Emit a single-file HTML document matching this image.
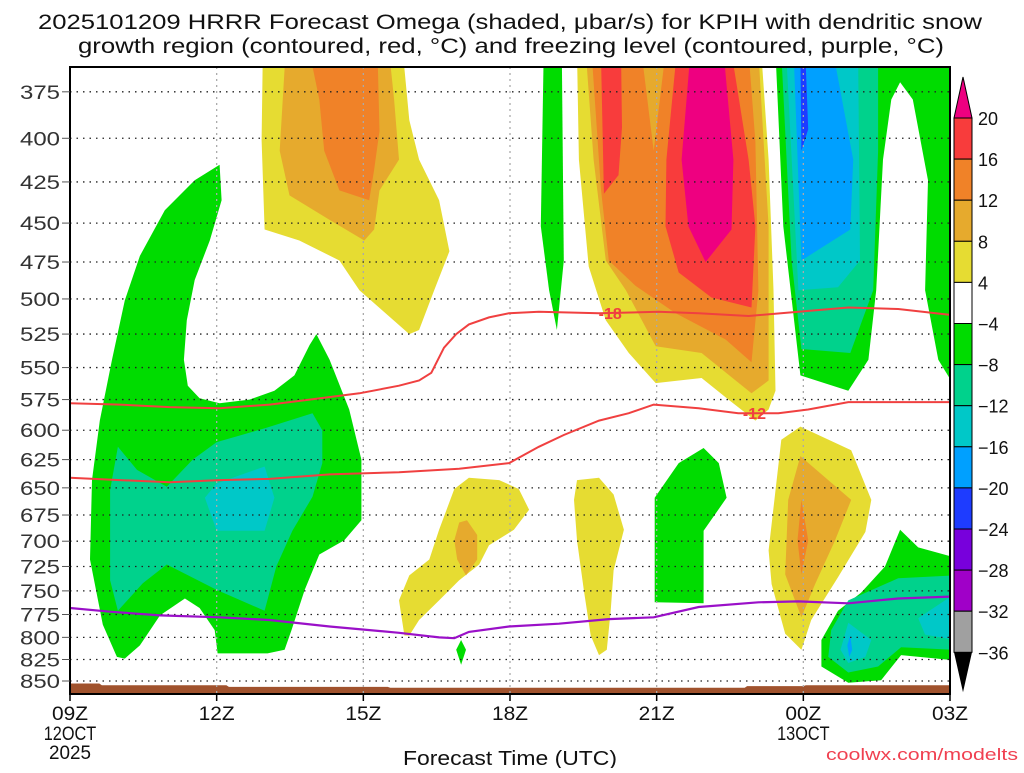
<!DOCTYPE html>
<html><head><meta charset="utf-8"><style>
body{margin:0;background:#fff;}
svg text{font-family:"Liberation Sans",sans-serif;}
</style></head><body>
<svg id="chart" width="1024" height="768" viewBox="0 0 1024 768" xmlns="http://www.w3.org/2000/svg">
<rect width="1024" height="768" fill="#fff"/>
<text x="510" y="29" font-size="21" text-anchor="middle" fill="#111" textLength="944" lengthAdjust="spacingAndGlyphs">2025101209 HRRR Forecast Omega (shaded, μbar/s) for KPIH with dendritic snow</text>
<text x="511" y="53" font-size="21" text-anchor="middle" fill="#111" textLength="866" lengthAdjust="spacingAndGlyphs">growth region (contoured, red, °C) and freezing level (contoured, purple, °C)</text>
<defs><clipPath id="plotclip"><rect x="70" y="67" width="880" height="627"/></clipPath></defs>
<g id="fills" clip-path="url(#plotclip)"></g>
<g id="grid"></g>
<g id="lines" clip-path="url(#plotclip)"></g>
<g id="axes"></g>
<g id="cbar"></g>
<text x="510" y="765" font-size="20" text-anchor="middle" fill="#111" textLength="214" lengthAdjust="spacingAndGlyphs">Forecast Time (UTC)</text>
<text x="1018" y="760" font-size="17" text-anchor="end" fill="#f04050" textLength="192" lengthAdjust="spacingAndGlyphs">coolwx.com/modelts</text>
</svg>
<script>
const NS="http://www.w3.org/2000/svg";
const xTickHours=[0,3,6,9,12,15,18];
const xTickLabels=["09Z","12Z","15Z","18Z","21Z","00Z","03Z"];
const xDateLabels=[["12OCT","2025"],null,null,null,null,["13OCT"],null];
const yTicks=[375,400,425,450,475,500,525,550,575,600,625,650,675,700,725,750,775,800,825,850];
const cbLevels=["20","16","12","8","4","−4","−8","−12","−16","−20","−24","−28","−32","−36"];
const cbColors=["#f83c3c","#f08228","#e6aa2d","#e6dc32","#ffffff","#00dc00","#00d28c","#00c8c8","#00a0ff","#1e3cff","#7800dc","#a000c8","#a0a0a0"];
const C={mag:"#ee0080",red:"#f83c3c",ora:"#f08228",gold:"#e6aa2d",yel:"#e6dc32",grn:"#00dc00",teal:"#00d28c",cyan:"#00c8c8",blue:"#00a0ff",dblue:"#1e3cff"};
function X(h){return 70+h*880/18;}
function Y(p){return 681-720*Math.log(850/p);}
const greenLeft=[[0.96,822],[0.67,786],[0.41,718],[0.45,643],[0.61,592],[0.86,544],[1.12,501],[1.43,471],[1.94,442],[2.55,424],[3.06,415],[3.10,436],[2.86,461],[2.55,487],[2.39,515],[2.33,544],[2.41,564],[2.65,574],[3.06,578],[3.67,575],[4.18,568],[4.59,556],[4.90,533],[5.04,525],[5.31,544],[5.71,583],[5.96,625],[5.96,680],[5.61,699],[5.10,713],[4.80,749],[4.53,792],[4.39,814],[4.04,818],[3.02,818],[2.96,792],[2.65,768],[2.35,758],[1.84,776],[1.43,809],[1.12,824]];
const tealLeft=[[0.98,614],[1.37,634],[1.98,649],[2.51,625],[3.0,610],[4.02,598],[4.96,586],[5.16,600],[5.16,628],[4.96,658],[4.55,690],[4.22,725],[3.98,771],[3.0,749],[1.98,723],[1.49,742],[0.98,771],[0.82,739],[0.82,652]];
const cyanLeft=[[2.76,659],[3.0,646],[3.98,631],[4.18,659],[3.98,690],[3.0,690]];
const yelTL=[[3.94,355],[3.94,363],[3.92,401],[3.98,454],[4.69,461],[5.51,474],[5.92,494],[6.94,525],[7.14,522],[7.45,494],[7.76,468],[7.55,436],[7.14,412],[6.94,390],[6.84,363],[6.84,355]];
const goldTL=[[4.39,355],[4.39,363],[4.29,407],[4.49,433],[5.31,448],[6.02,461],[6.22,454],[6.33,430],[6.73,412],[6.63,379],[6.53,355]];
const oraTL=[[4.90,355],[5.10,379],[5.20,407],[5.51,430],[6.12,436],[6.22,418],[6.33,396],[6.29,355]];
const yelS1=[[6.84,798],[6.73,760],[6.94,734],[7.35,718],[7.55,689],[7.86,651],[8.16,641],[8.78,643],[9.18,651],[9.39,670],[9.08,689],[8.57,704],[8.37,723],[7.96,739],[7.55,760],[7.14,781],[6.94,798]];
const goldS1=[[7.96,682],[8.12,680],[8.33,694],[8.33,718],[8.10,734],[7.92,718],[7.86,699]];
const yelS2=[[10.37,643],[10.82,641],[11.12,656],[11.33,689],[11.12,729],[11.06,771],[10.98,814],[10.82,820],[10.65,798],[10.51,749],[10.37,699],[10.31,661]];
const grnDiamond=[[8.0,803],[8.1,814],[8.0,831],[7.9,814]];
const grnMid=[[11.96,659],[12.45,628],[12.96,615],[13.27,628],[13.43,659],[12.96,690],[12.96,763],[11.96,762]];
const yelCol=[[10.37,355],[10.41,412],[10.61,478],[10.96,515],[11.43,539],[11.98,562],[12.92,558],[13.47,575],[14.02,592],[14.29,583],[14.43,568],[14.39,494],[14.29,412],[14.14,355]];
const goldCol=[[10.55,355],[10.71,412],[10.96,474],[11.37,494],[11.98,534],[12.92,539],[13.94,570],[14.29,560],[14.29,452],[14.08,355]];
const oraCol=[[10.67,355],[10.86,429],[11.02,474],[11.57,491],[12.39,510],[13.41,529],[13.94,546],[14.08,494],[14.02,402],[13.88,355]];
const goldWedge=[[11.69,355],[11.94,407],[12.18,355]];
const redColL=[[10.86,355],[10.92,432],[11.22,421],[11.29,394],[11.27,355]];
const redColR=[[12.41,355],[12.20,412],[12.18,452],[12.45,482],[13.12,499],[13.94,506],[14.02,452],[13.88,412],[13.53,355]];
const magCol=[[12.69,355],[12.51,412],[12.65,452],[13.0,475],[13.53,454],[13.57,412],[13.37,355]];
const grnCol=[[9.69,355],[9.63,452],[9.80,494],[9.96,522],[10.10,474],[10.06,355]];
const grnRight=[[14.43,355],[14.59,452],[14.94,556],[15.92,568],[16.33,544],[16.49,494],[16.63,412],[16.80,379],[16.98,370],[17.24,379],[17.55,424],[17.49,494],[17.76,544],[18.1,565],[18.1,355]];
const tealRight=[[14.55,355],[14.76,474],[14.96,536],[15.96,539],[16.43,494],[16.53,407],[16.53,355]];
const cyanRight=[[14.65,355],[14.90,494],[15.71,492],[16.16,474],[16.12,355]];
const blueRight=[[14.80,355],[14.96,474],[15.96,454],[16.02,412],[15.61,355]];
const dblueRight=[[14.94,355],[14.96,407],[15.10,395],[15.04,355]];
const yel00=[[14.94,597],[15.98,617],[16.39,661],[16.27,691],[15.71,736],[15.16,781],[14.96,814],[14.63,796],[14.35,743],[14.29,709],[14.55,608]];
const gold00=[[14.94,622],[15.98,661],[15.65,699],[15.24,743],[14.96,778],[14.63,733],[14.69,661]];
const ora00=[[14.96,661],[15.10,699],[14.96,733],[14.88,699]];
const grnBR=[[16.98,689],[17.35,706],[18.1,716],[18.1,826],[17.0,820],[16.59,849],[15.92,852],[15.37,833],[15.37,803],[15.71,771],[16.18,752],[16.67,725]];
const tealBR=[[15.92,760],[16.94,737],[18.1,734],[18.1,814],[17.0,811],[16.53,833],[15.92,840],[15.51,822],[15.57,792]];
const cyanBR1=[[15.92,784],[16.39,803],[16.27,822],[15.92,829],[15.76,814]];
const cyanBR2=[[17.35,779],[18.1,753],[18.1,803],[17.49,797]];
const blueBR=[[15.96,798],[16.0,814],[15.94,822],[15.9,809]];
const layers=[
 ["green-region-left",greenLeft,C.grn],["teal-region-left",tealLeft,C.teal],["cyan-region-left",cyanLeft,C.cyan],
 ["yellow-region-top-left",yelTL,C.yel],["gold-region-top-left",goldTL,C.gold],["orange-region-top-left",oraTL,C.ora],
 ["yellow-region-17z",yelS1,C.yel],["gold-region-17z",goldS1,C.gold],["yellow-region-20z",yelS2,C.yel],
 ["green-region-17z",grnDiamond,C.grn],["green-region-22z",grnMid,C.grn],
 ["yellow-region-column",yelCol,C.yel],["gold-region-column",goldCol,C.gold],["orange-region-column",oraCol,C.ora],
 ["gold-wedge-column",goldWedge,C.gold],["red-region-column-left",redColL,C.red],["red-region-column-right",redColR,C.red],
 ["magenta-region-column",magCol,C.mag],["green-region-19z",grnCol,C.grn],
 ["green-region-right",grnRight,C.grn],["teal-region-right",tealRight,C.teal],["cyan-region-right",cyanRight,C.cyan],
 ["blue-region-right",blueRight,C.blue],["dark-blue-region-right",dblueRight,C.dblue],
 ["yellow-region-00z",yel00,C.yel],["gold-region-00z",gold00,C.gold],["orange-region-00z",ora00,C.ora],
 ["green-region-bottom-right",grnBR,C.grn],["teal-region-bottom-right",tealBR,C.teal],
 ["cyan-region-bottom-right",cyanBR1,C.cyan],["cyan-region-bottom-right-2",cyanBR2,C.cyan],["blue-region-bottom-right",blueBR,C.blue]
];
const isoM18=[[0,578],[1.02,579],[2.04,581],[3.06,582],[4.08,579],[4.90,575],[5.92,570],[6.73,564],[7.14,560],[7.39,554],[7.65,535],[7.90,525],[8.16,518],[8.57,513],[8.98,510],[9.59,509],[10.82,510],[12.04,509],[12.86,510],[13.88,512],[14.90,509],[15.92,506],[16.94,507],[17.96,511],[18,511]];
const isoM12=[[0,641],[1.02,643],[2.04,645],[3.06,643],[4.08,642],[5.31,638],[6.73,636],[7.96,633],[8.98,628],[9.59,614],[10.10,604],[10.82,592],[11.43,586],[11.94,579],[12.86,582],[13.67,586],[14.49,586],[15.10,583],[15.92,577],[16.94,577],[18,577]];
const iso0=[[0,768],[0.82,772],[1.84,776],[3.06,778],[4.08,781],[5.31,788],[6.73,795],[7.55,800],[7.86,801],[8.16,794],[8.98,788],[10.0,785],[11.02,780],[11.94,778],[12.86,767],[14.08,762],[14.90,761],[15.92,763],[16.94,758],[18,756]];
const terrainHours=[0,0.6,0.65,3.2,3.25,6.5,6.55,13.8,13.85,15.0,15.05,18];
const terrainP=[853,853,855,855,857,857,858,858,856,856,855,855];
function el(tag,attrs,parent){const e=document.createElementNS(NS,tag);for(const k in attrs)e.setAttribute(k,attrs[k]);parent.appendChild(e);return e;}
const fills=document.getElementById('fills');
layers.forEach(([name,pts,col])=>{
 const d=pts.map((q,i)=>(i?'L':'M')+X(q[0]).toFixed(1)+','+Y(q[1]).toFixed(1)).join('')+'Z';
 const p=el('path',{d:d,fill:col},fills);
 
 
});
{let d='M'+X(0)+','+Y(870);terrainHours.forEach((h,i)=>{d+='L'+X(h).toFixed(1)+','+Y(terrainP[i]).toFixed(1);});d+='L'+X(18)+','+Y(870)+'Z';
 const t=el('path',{d:d,fill:"#a0522d"},fills);
 
 }
const grid=document.getElementById('grid');
yTicks.forEach(p=>{const g=el('line',{x1:70,x2:950,y1:Y(p),y2:Y(p),stroke:"#222","stroke-width":1.3,"stroke-dasharray":"1.5 5"},grid);
 
 });
xTickHours.slice(1,-1).forEach(h=>{const g=el('line',{x1:X(h),x2:X(h),y1:67,y2:694,stroke:"#aaa","stroke-width":1.3,"stroke-dasharray":"2 4"},grid);
 
 });
const lines=document.getElementById('lines');
function poly(pts,col,name,w){const d=pts.map((q,i)=>(i?'L':'M')+X(q[0]).toFixed(1)+','+Y(q[1]).toFixed(1)).join('');
 const p=el('path',{d:d,fill:"none",stroke:col,"stroke-width":w},lines);
 
 }
poly(isoM18,"#f04040","isotherm-minus-18",2);
poly(isoM12,"#f04040","isotherm-minus-12",2);
poly(iso0,"#9a10c8","freezing-level-line",2.2);
function lab(h,p,txt,name){
 const t=el('text',{x:X(h),y:Y(p)+6,"font-size":16,"font-weight":"bold","text-anchor":"middle",fill:"#f04040"},lines);t.textContent=txt;
 
 }
lab(11.05,510,"-18","isotherm-label-minus-18");
lab(14.0,586,"-12","isotherm-label-minus-12");
const axes=document.getElementById('axes');
el('rect',{x:70,y:67,width:880,height:627,fill:"none",stroke:"#000","stroke-width":2},axes);
yTicks.forEach(p=>{el('line',{x1:62,x2:70,y1:Y(p),y2:Y(p),stroke:"#555","stroke-width":1},axes);
 const t=el('text',{x:60,y:Y(p)+7,"font-size":19,"text-anchor":"end",fill:"#333",textLength:40,lengthAdjust:"spacingAndGlyphs"},axes);t.textContent=p;
 
 });
xTickHours.forEach((h,i)=>{el('line',{x1:X(h),x2:X(h),y1:694,y2:701,stroke:"#000","stroke-width":1.5},axes);
 const t=el('text',{x:X(h),y:720,"font-size":19,"text-anchor":"middle",fill:"#111",textLength:36,lengthAdjust:"spacingAndGlyphs"},axes);t.textContent=xTickLabels[i];
 
 
 if(xDateLabels[i])xDateLabels[i].forEach((s,j)=>{const u=el('text',{x:X(h),y:740+j*19,"font-size":19,"text-anchor":"middle",fill:"#111",textLength:s.length*10.5,lengthAdjust:"spacingAndGlyphs"},axes);u.textContent=s;
  
  });});
const cb=document.getElementById('cbar');
const cx=954,cw=18,ctop=118,ch=41.1;
el('path',{d:`M${cx},${ctop}L${cx+cw/2},${ctop-41}L${cx+cw},${ctop}Z`,fill:C.mag,stroke:"#000","stroke-width":1},cb);
cbColors.forEach((c,i)=>{const r=el('rect',{x:cx,y:ctop+i*ch,width:cw,height:ch,fill:c,stroke:"#000","stroke-width":1},cb);
 
 });
const cbot=ctop+cbColors.length*ch;
el('path',{d:`M${cx},${cbot}L${cx+cw/2},${cbot+40}L${cx+cw},${cbot}Z`,fill:"#000"},cb);
cbLevels.forEach((s,i)=>{const t=el('text',{x:978,y:ctop+i*ch+7,"font-size":18,fill:"#111"},cb);t.textContent=s;
 
 });
</script>
</body></html>
